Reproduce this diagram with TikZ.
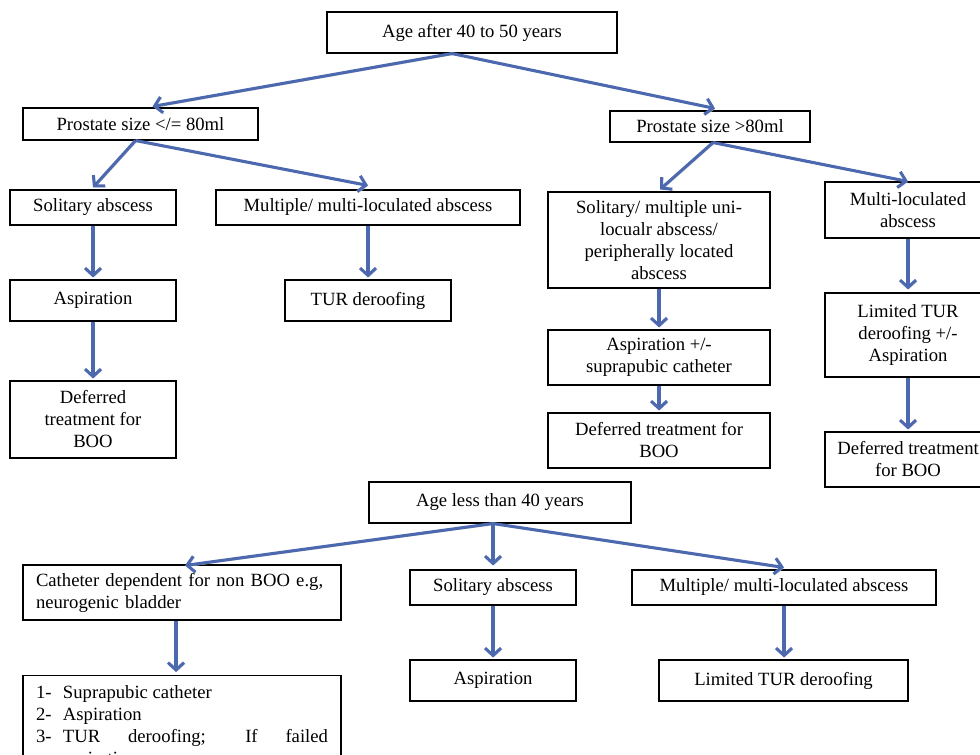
\documentclass[tikz,border=0pt]{standalone}
\usepackage{fontspec}
\setmainfont{Liberation Serif}
\usepackage{xcolor}
\usepackage{tikz}
\usetikzlibrary{arrows.meta}
\usetikzlibrary{calc}
\definecolor{arrblue}{RGB}{76,104,174}
\tikzset{box/.style={draw,line width=0.8pt,align=center,inner sep=2pt,font=\fontsize{14}{16.5}\selectfont},
arr/.style={draw=arrblue,line width=2.3pt,-{Straight Barb[length=5.5pt,width=12pt]},preaction={draw=gray!40,transform canvas={shift={(0.9pt,-0.9pt)}}}}}

\begin{document}
\begin{tikzpicture}[x=0.75pt,y=-0.75pt]
\useasboundingbox(0,0)rectangle(980,755);
\clip(0,0)rectangle(980,755);

\node[box,minimum width=217.5pt,minimum height=30.75pt](ageold)at(472,32.5){Age after 40 to 50 years};
\node[box,minimum width=176.25pt,minimum height=24pt](psmall)at(140.5,124){Prostate size </= 80ml};
\node[box,minimum width=150pt,minimum height=23.25pt](pbig)at(710,126.5){Prostate size >80ml};

\node[box,minimum width=124.5pt,minimum height=26.25pt](solA)at(93,207.5){Solitary abscess};
\node[box,minimum width=228pt,minimum height=26.25pt](multA)at(368,207.5){Multiple/ multi-loculated abscess};
\node[box,minimum width=166.5pt,minimum height=72pt](uniB)at(659,240){Solitary/ multiple uni-\\locualr abscess/\\peripherally located\\abscess};
\node[box,minimum width=124.5pt,minimum height=42pt](multC)at(908,210){Multi-loculated\\abscess};

\node[box,minimum width=124.5pt,minimum height=30.75pt](aspA)at(93,300.5){Aspiration};
\node[box,minimum width=124.5pt,minimum height=30.75pt](turA)at(368,300.5){TUR deroofing};
\node[box,minimum width=166.5pt,minimum height=41.25pt](aspB)at(659,357.5){Aspiration +/-\\suprapubic catheter};
\node[box,minimum width=124.5pt,minimum height=63pt](limC)at(908,335){Limited TUR\\deroofing +/-\\Aspiration};

\node[box,minimum width=124.5pt,minimum height=57.75pt](defA)at(93,419.5){Deferred\\treatment for\\BOO};
\node[box,minimum width=166.5pt,minimum height=41.25pt](defB)at(659,440.5){Deferred treatment for\\BOO};
\node[box,minimum width=124.5pt,minimum height=41.25pt](defC)at(908,459.5){Deferred treatment\\for BOO};

\node[box,minimum width=196.5pt,minimum height=30.75pt](ageyoung)at(500,502.5){Age less than 40 years};
\node[box,align=left,text width=219pt,inner xsep=9.75pt,minimum height=41.25pt](cath)at(182,592.5){Catheter dependent for non BOO e.g,\\neurogenic bladder};
\node[box,minimum width=124.5pt,minimum height=26.25pt](solY)at(493,587.5){Solitary abscess};
\node[box,minimum width=228pt,minimum height=26.25pt](multY)at(784,587.5){Multiple/ multi-loculated abscess};

\node[box,anchor=north,align=justify,text width=219pt,inner xsep=9.75pt,inner ysep=6pt](steps)at(182,675){\begin{tabular}{@{}p{20.25pt}@{}p{198.75pt}@{}}
1- & Suprapubic catheter\\
2- & Aspiration\\
3- & TUR deroofing; If failed\linebreak aspiration
\end{tabular}};
\node[box,minimum width=124.5pt,minimum height=30.75pt](aspY)at(493,680.5){Aspiration};
\node[box,minimum width=186.75pt,minimum height=30.75pt](turY)at(783.5,680.5){Limited TUR deroofing};

\draw[arr]($(ageold.south)+(-20,0)$)--($(psmall.north)+(12,-1)$);
\draw[arr]($(ageold.south)+(-20,0)$)--($(pbig.north)+(5,-2)$);
\draw[arr]($(psmall.south)+(-5,0)$)--($(solA.north)+(0,-2)$);
\draw[arr]($(psmall.south)+(-5,0)$)--($(multA.north)+(0,-4)$);
\draw[arr]($(pbig.south)+(3,0)$)--($(uniB.north)+(1,-2)$);
\draw[arr]($(pbig.south)+(3,0)$)--(multC.north);

\draw[arr](solA)--($(aspA.north)+(0,-2)$);
\draw[arr](aspA)--($(defA.north)+(0,-2)$);
\draw[arr](multA)--($(turA.north)+(0,-2)$);
\draw[arr](uniB)--($(aspB.north)+(0,-2)$);
\draw[arr](aspB)--($(defB.north)+(0,-2)$);
\draw[arr](multC)--($(limC.north)+(0,-3)$);
\draw[arr](limC)--($(defC.north)+(0,-2)$);

\draw[arr]($(ageyoung.south)+(-7,0)$)--($(cath.north)+(3,1)$);
\draw[arr]($(ageyoung.south)+(-7,0)$)--($(solY.north)+(0,-4)$);
\draw[arr]($(ageyoung.south)+(-7,0)$)--($(multY.north)+(0,-2)$);
\draw[arr]($(cath.south)+(-6,0)$)--($(steps.north)+(-6,-3)$);
\draw[arr](solY)--($(aspY.north)+(0,-2)$);
\draw[arr](multY)--($(turY.north)+(0.5,-2)$);
\end{tikzpicture}
\end{document}
